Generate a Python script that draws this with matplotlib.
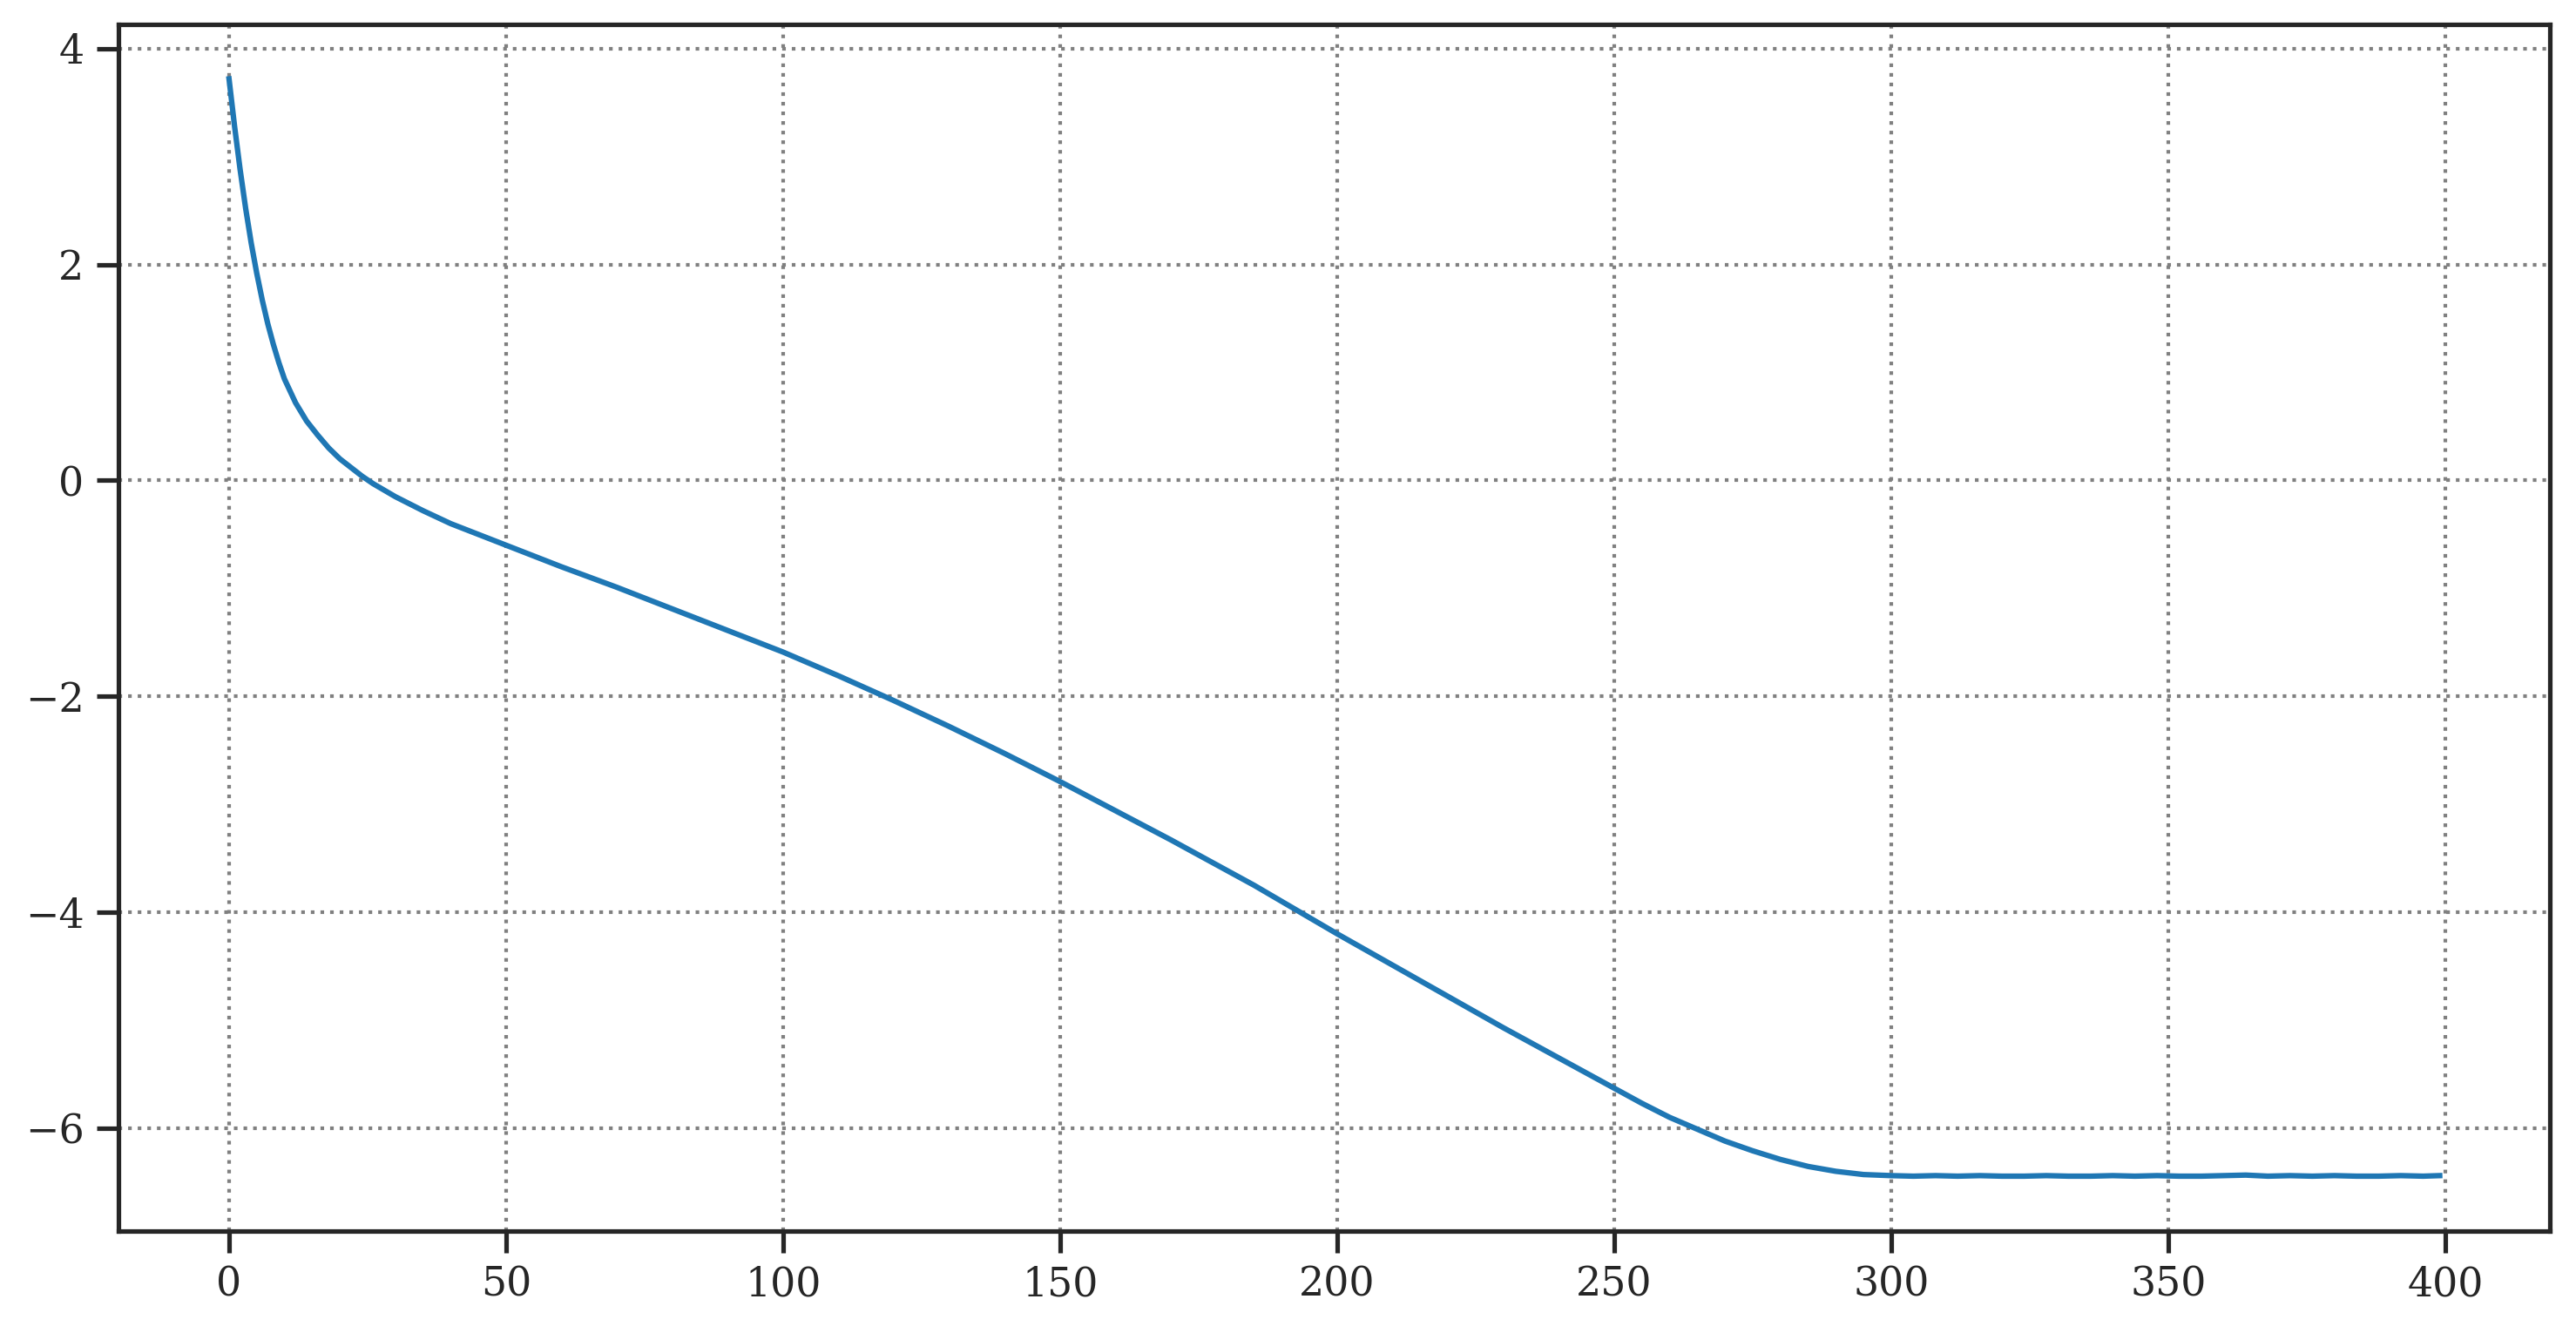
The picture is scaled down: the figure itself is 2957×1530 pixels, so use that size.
import matplotlib
matplotlib.use("Agg")
import matplotlib.pyplot as plt

# curve (step index vs value)
steps = [0, 1, 2, 3, 4, 5, 6, 7, 8, 9, 10, 12, 14, 16, 18, 20, 22, 24, 26, 28,
         30, 35, 40, 45, 50, 55, 60, 65, 70, 75, 80, 85, 90, 95, 100,
         105, 110, 115, 120, 125, 130, 135, 140, 145, 150, 155, 160, 165, 170,
         175, 180, 185, 190, 195, 200, 205, 210, 215, 220, 225, 230, 235, 240,
         245, 250, 255, 260, 265, 270, 275, 280, 285, 290, 295, 300,
         304, 308, 312, 316, 320, 324, 328, 332, 336, 340, 344, 348, 352, 356,
         360, 364, 368, 372, 376, 380, 384, 388, 392, 396, 399]
values = [3.72, 3.28, 2.88, 2.52, 2.20, 1.92, 1.67, 1.45, 1.26, 1.09, 0.94,
          0.72, 0.55, 0.42, 0.30, 0.20, 0.12, 0.04, -0.03, -0.09,
          -0.15, -0.28, -0.40, -0.50, -0.60, -0.70, -0.80, -0.895,
          -0.99, -1.09, -1.19, -1.29, -1.39, -1.49, -1.59,
          -1.70, -1.81, -1.925, -2.04, -2.16, -2.28, -2.405, -2.53, -2.66,
          -2.79, -2.925, -3.06, -3.195, -3.33, -3.47, -3.61, -3.75, -3.90,
          -4.05, -4.20, -4.345, -4.49, -4.635, -4.78, -4.925, -5.07, -5.21,
          -5.35, -5.49, -5.63, -5.77, -5.90, -6.01, -6.12, -6.21, -6.29,
          -6.355, -6.40, -6.43, -6.44,
          -6.445, -6.44, -6.445, -6.44, -6.445, -6.445, -6.44, -6.445,
          -6.445, -6.44, -6.445, -6.44, -6.445, -6.445, -6.44, -6.435,
          -6.445, -6.44, -6.445, -6.44, -6.445, -6.445, -6.44, -6.445, -6.44]

dpi = 300

plt.rcParams["font.family"] = ["DejaVu Serif"]
plt.rcParams["axes.edgecolor"] = ".15"
plt.rcParams["axes.linewidth"] = 1.25
plt.rcParams["xtick.color"] = ".15"
plt.rcParams["ytick.color"] = ".15"
plt.rcParams["xtick.labelsize"] = 11
plt.rcParams["ytick.labelsize"] = 11
plt.rcParams["xtick.major.size"] = 6
plt.rcParams["ytick.major.size"] = 6
plt.rcParams["xtick.major.width"] = 1.25
plt.rcParams["ytick.major.width"] = 1.25

fig, ax = plt.subplots(figsize=(2957 / dpi, 1530 / dpi), dpi=dpi)
fig.subplots_adjust(left=0.046, right=0.990, top=0.982, bottom=0.0765)

ax.plot(steps, values, color="#1f77b4", linewidth=1.5)
ax.grid(True, linestyle=":", color="gray", linewidth=1)
ax.set_yticks([-6, -4, -2, 0, 2, 4])
ax.set_xticks([0, 50, 100, 150, 200, 250, 300, 350, 400])

fig.savefig("out.png", dpi=dpi)
